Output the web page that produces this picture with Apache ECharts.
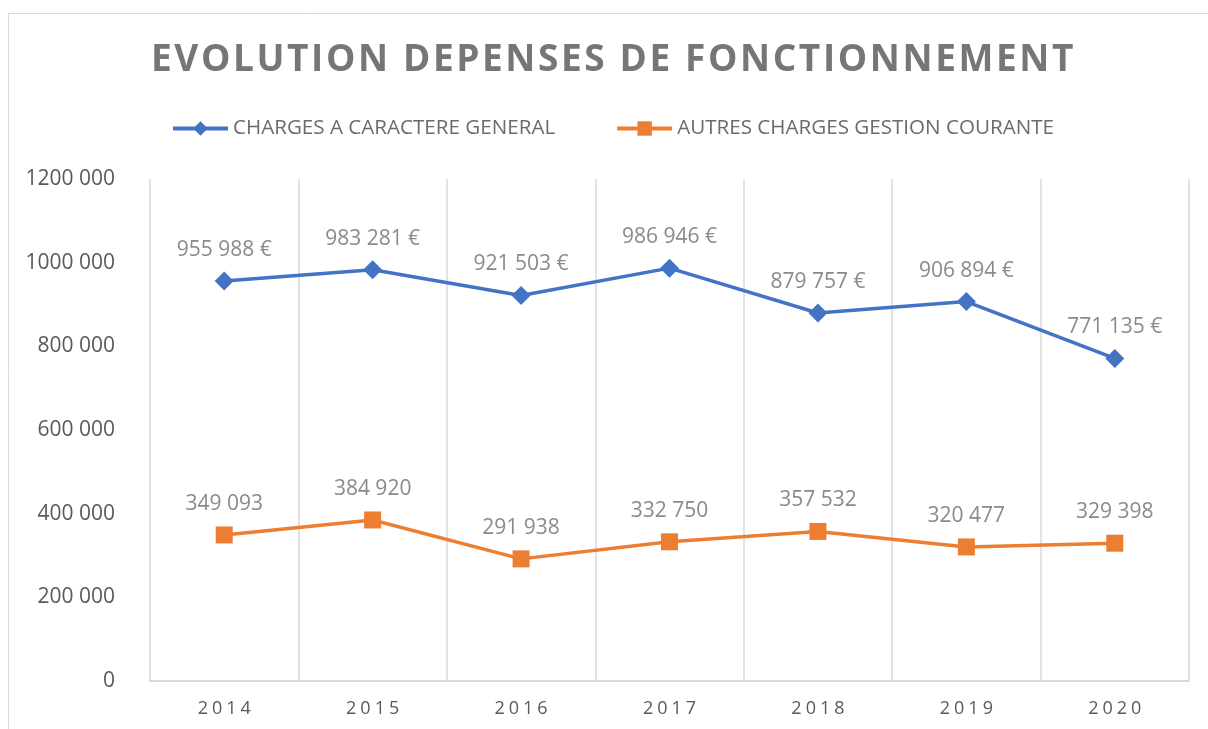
<!DOCTYPE html>
<html><head><meta charset="utf-8">
<script src="https://cdn.jsdelivr.net/npm/echarts@6/dist/echarts.min.js"></script>
<style>html,body{margin:0;padding:0;background:#fff}#c{width:1208px;height:729px}</style>
</head><body><div id="c"></div>
<script>
const titleText = 'EVOLUTION DEPENSES DE FONCTIONNEMENT';
const years = ['2014','2015','2016','2017','2018','2019','2020'];
const seriesNames = ['CHARGES A CARACTERE GENERAL','AUTRES CHARGES GESTION COURANTE'];
const chargesGenerales = [955988, 983281, 921503, 986946, 879757, 906894, 771135];
const autresCharges = [349093, 384920, 291938, 332750, 357532, 320477, 329398];
const yMin = 0, yMax = 1200000, yStep = 200000;

// letter spacing (title and year labels) applied at draw time only
const spacing = {};
spacing[titleText] = 2.6;
years.forEach(y => spacing[y] = 4);
(function(){
  const proto = CanvasRenderingContext2D.prototype;
  const orig = proto.fillText;
  if (!('letterSpacing' in proto)) return;
  proto.fillText = function(t, x, y, mw){
    const sp = spacing[t];
    const cur = this.letterSpacing;
    const want = sp ? sp + 'px' : '0px';
    if (cur !== want) { this.letterSpacing = want; const f = this.font; this.font = f; }
    const dx = (sp && this.textAlign === 'center') ? sp/2 : 0;
    let r;
    if (arguments.length > 3 && mw !== undefined) r = orig.call(this, t, x + dx, y, mw);
    else r = orig.call(this, t, x + dx, y);
    if (sp) { this.letterSpacing = '0px'; const f = this.font; this.font = f; }
    return r;
  };
})();

function fmt(v){
  return String(Math.round(v)).replace(/\B(?=(\d{3})+(?!\d))/g, ' ');
}
function fmtAxis(v){
  if (v < 1000) return String(v);
  const hi = Math.floor(v/1000), lo = v % 1000;
  return hi + ' ' + String(lo).padStart(3,'0');
}
const font = 'Open Sans';
const chart = echarts.init(document.getElementById('c'), null, {renderer:'canvas'});
chart.setOption({
  animation:false,
  backgroundColor:'#fff',
  graphic:[{type:'rect', shape:{x:8.5,y:13.5,width:1400,height:900}, style:{fill:'none', stroke:'#d9d9d9', lineWidth:1}, silent:true}],
  title:{text:titleText, left:146, top:37, textStyle:{fontFamily:font, fontWeight:'bold', fontSize:37, color:'#767676'}},
  legend:{top:113, left:166, itemWidth:55, itemHeight:18, itemGap:60,
    lineStyle:{width:4},
    textStyle:{fontFamily:font, fontSize:20.6, color:'#6b6b6b'}, data:seriesNames},
  grid:{left:150, right:19, top:179, bottom:48, containLabel:false},
  xAxis:{type:'category', data:years, boundaryGap:true,
    axisLine:{lineStyle:{color:'#d9d9d9', width:2}}, axisTick:{show:false},
    axisLabel:{fontFamily:font, fontSize:18, color:'#595959', margin:19},
    splitLine:{show:true, lineStyle:{color:'#d9d9d9', width:1.5}}},
  yAxis:{type:'value', min:yMin, max:yMax, interval:yStep,
    axisLine:{show:false}, axisTick:{show:false}, splitLine:{show:false},
    axisLabel:{fontFamily:font, fontSize:21, color:'#595959', margin:35, formatter:fmtAxis}},
  series:[
    {name:seriesNames[0], type:'line', data:chargesGenerales, symbol:'diamond', symbolSize:19,
     lineStyle:{color:'#4472c4', width:3.5}, itemStyle:{color:'#4472c4'},
     label:{show:true, position:'top', distance:11, fontFamily:font, fontSize:21, color:'#8a8a8a', formatter:p=>fmt(p.value)+' €'}},
    {name:seriesNames[1], type:'line', data:autresCharges, symbol:'rect', symbolSize:17,
     lineStyle:{color:'#ed7d31', width:3.5}, itemStyle:{color:'#ed7d31'},
     label:{show:true, position:'top', distance:12, fontFamily:font, fontSize:21, color:'#8a8a8a', formatter:p=>fmt(p.value)}}
  ]
});
</script></body></html>
